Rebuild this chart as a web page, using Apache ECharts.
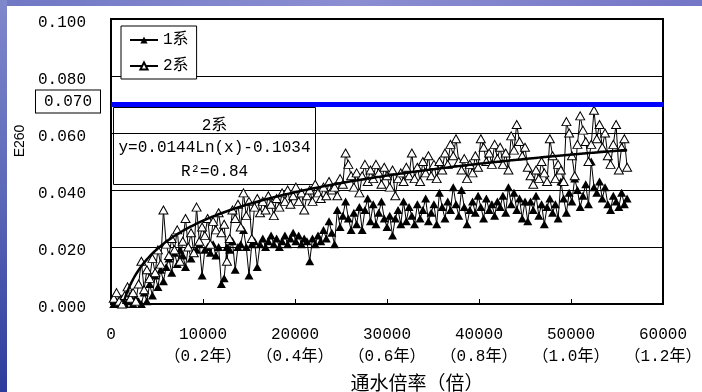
<!DOCTYPE html>
<html>
<head>
<meta charset="utf-8">
<script src="https://cdn.jsdelivr.net/npm/echarts@6/dist/echarts.min.js"></script>
<style>
  html, body { margin: 0; padding: 0; background: #fff; }
  #main { width: 702px; height: 392px; }
</style>
</head>
<body>
<div id="main"></div>
<script>
// 通水倍率（倍）
const xValues = [
  300, 600, 900, 1200, 1500, 1800, 2100, 2400, 2700, 3000,
  3300, 3600, 3900, 4200, 4500, 4800, 5100, 5400, 5700, 6000,
  6300, 6600, 6900, 7200, 7500, 7800, 8100, 8400, 8700, 9000,
  9300, 9600, 9900, 10200, 10500, 10800, 11100, 11400, 11700, 12000,
  12300, 12600, 12900, 13200, 13500, 13800, 14100, 14400, 14700, 15000,
  15300, 15600, 15900, 16200, 16500, 16800, 17100, 17400, 17700, 18000,
  18300, 18600, 18900, 19200, 19500, 19800, 20100, 20400, 20700, 21000,
  21300, 21600, 21900, 22200, 22500, 22800, 23100, 23400, 23700, 24000,
  24300, 24600, 24900, 25200, 25500, 25800, 26100, 26400, 26700, 27000,
  27300, 27600, 27900, 28200, 28500, 28800, 29100, 29400, 29700, 30000,
  30300, 30600, 30900, 31200, 31500, 31800, 32100, 32400, 32700, 33000,
  33300, 33600, 33900, 34200, 34500, 34800, 35100, 35400, 35700, 36000,
  36300, 36600, 36900, 37200, 37500, 37800, 38100, 38400, 38700, 39000,
  39300, 39600, 39900, 40200, 40500, 40800, 41100, 41400, 41700, 42000,
  42300, 42600, 42900, 43200, 43500, 43800, 44100, 44400, 44700, 45000,
  45300, 45600, 45900, 46200, 46500, 46800, 47100, 47400, 47700, 48000,
  48300, 48600, 48900, 49200, 49500, 49800, 50100, 50400, 50700, 51000,
  51300, 51600, 51900, 52200, 52500, 52800, 53100, 53400, 53700, 54000,
  54300, 54600, 54900, 55200, 55500, 55800, 56100
];

// 1系 E260
const series1Values = [
  0.000, 0.001, 0.000, 0.002, 0.000, 0.001, 0.003, 0.000, 0.002, 0.001,
  0.000, 0.004, 0.001, 0.007, 0.003, 0.010, 0.006, 0.012, 0.008, 0.013,
  0.016, 0.011, 0.018, 0.014, 0.019, 0.017, 0.013, 0.020, 0.016, 0.018,
  0.019, 0.021, 0.010, 0.019, 0.020, 0.018, 0.021, 0.017, 0.020, 0.007,
  0.009, 0.020, 0.019, 0.022, 0.012, 0.020, 0.021, 0.026, 0.020, 0.010,
  0.021, 0.022, 0.013, 0.021, 0.023, 0.020, 0.022, 0.024, 0.021, 0.023,
  0.020, 0.022, 0.024, 0.021, 0.023, 0.025, 0.022, 0.024, 0.021, 0.023,
  0.022, 0.015, 0.023, 0.021, 0.024, 0.022, 0.026, 0.023, 0.029, 0.025,
  0.021, 0.033, 0.027, 0.031, 0.036, 0.030, 0.026, 0.032, 0.028, 0.034,
  0.026, 0.033, 0.037, 0.029, 0.035, 0.028, 0.032, 0.036, 0.030, 0.027,
  0.031, 0.024, 0.030, 0.033, 0.028, 0.036, 0.029, 0.034, 0.031, 0.028,
  0.035, 0.030, 0.033, 0.037, 0.029, 0.032, 0.035, 0.028, 0.039, 0.034,
  0.030, 0.036, 0.033, 0.041, 0.035, 0.031, 0.040, 0.034, 0.028, 0.033,
  0.036, 0.032, 0.038, 0.034, 0.030, 0.037, 0.033, 0.035, 0.031, 0.036,
  0.034, 0.038, 0.032, 0.041, 0.035, 0.039, 0.033, 0.037, 0.030, 0.036,
  0.029, 0.036, 0.033, 0.038, 0.031, 0.035, 0.028, 0.034, 0.037, 0.032,
  0.035, 0.030, 0.043, 0.037, 0.032, 0.039, 0.036, 0.044, 0.040, 0.034,
  0.038, 0.042, 0.035, 0.050, 0.041, 0.039, 0.043, 0.037, 0.041, 0.035,
  0.033, 0.038, 0.036, 0.034, 0.039, 0.035, 0.037
];

// 2系 E260
const series2Values = [
  0.002, 0.004, 0.001, 0.000, 0.003, 0.006, 0.002, 0.004, 0.001, 0.007,
  0.015, 0.005, 0.012, 0.009, 0.016, 0.011, 0.019, 0.014, 0.033, 0.021,
  0.017, 0.023, 0.019, 0.026, 0.015, 0.022, 0.030, 0.020, 0.025, 0.018,
  0.034, 0.022, 0.027, 0.024, 0.030, 0.021, 0.029, 0.026, 0.032, 0.025,
  0.028, 0.015, 0.023, 0.033, 0.030, 0.035, 0.027, 0.039, 0.031, 0.036,
  0.023, 0.034, 0.037, 0.032, 0.036, 0.033, 0.038, 0.035, 0.031, 0.037,
  0.034, 0.039, 0.036, 0.040, 0.035, 0.038, 0.041, 0.036, 0.039, 0.033,
  0.038, 0.040, 0.036, 0.042, 0.039, 0.037, 0.041, 0.038, 0.043, 0.040,
  0.041, 0.038, 0.044, 0.042, 0.053, 0.049, 0.045, 0.041, 0.046, 0.039,
  0.045, 0.049, 0.043, 0.047, 0.044, 0.049, 0.046, 0.042, 0.048, 0.045,
  0.041, 0.047, 0.038, 0.044, 0.046, 0.043, 0.048, 0.045, 0.053, 0.044,
  0.048, 0.043, 0.050, 0.046, 0.052, 0.045, 0.049, 0.044, 0.050, 0.047,
  0.053, 0.049, 0.056, 0.052, 0.058, 0.050, 0.047, 0.051, 0.044, 0.049,
  0.046, 0.052, 0.048, 0.058, 0.055, 0.050, 0.053, 0.049, 0.056, 0.051,
  0.055, 0.049, 0.053, 0.047, 0.059, 0.054, 0.063, 0.057, 0.052, 0.055,
  0.048, 0.045, 0.042, 0.047, 0.044, 0.050, 0.046, 0.043, 0.058, 0.052,
  0.044, 0.049, 0.047, 0.043, 0.064, 0.060, 0.052, 0.045, 0.056, 0.066,
  0.061, 0.057, 0.050, 0.056, 0.068, 0.058, 0.063, 0.055, 0.060, 0.052,
  0.049, 0.056, 0.063, 0.047, 0.055, 0.058, 0.048
];

// 2系 近似曲線 y = a Ln(x) + b
const trendA = 0.0144;
const trendB = -0.1034;
const limitValue = 0.0712;

const xTickLabels = ['0', '10000', '20000', '30000', '40000', '50000', '60000'];
const xYearLabels = ['', '（0.2年）', '（0.4年）', '（0.6年）', '（0.8年）', '（1.0年）', '（1.2年）'];
const equationLines = ['2系', 'y=0.0144Ln(x)-0.1034', 'R²=0.84'];

const monoFont = "'Liberation Mono', 'Noto Sans CJK SC', monospace";

let myChart = echarts.init(document.getElementById('main'))

let data1 = xValues.map((x, i) => [x, series1Values[i]])
let data2 = xValues.map((x, i) => [x, series2Values[i]])
let trendStart = Math.exp(-trendB / trendA)
let trendData = [[trendStart, 0]].concat(
  xValues.filter(x => x > trendStart).map(x => [x, trendA * Math.log(x) + trendB])
)

let eqTexts = equationLines.map((t, i) => ({
  type: 'text',
  x: 101,
  y: [18, 40, 64][i],
  style: {
    text: t,
    fontFamily: monoFont,
    fontSize: 16,
    fill: '#000',
    align: 'center',
    verticalAlign: 'middle'
  }
}))

myChart.setOption({
  animation: false,
  backgroundColor: '#fff',
  graphic: [
    {
      type: 'rect',
      shape: { x: 0, y: 0, width: 702, height: 6 },
      style: {
        fill: new echarts.graphic.LinearGradient(0, 0, 1, 0, [
          { offset: 0, color: '#7078c4' },
          { offset: 0.5, color: '#8c8ed2' },
          { offset: 1, color: '#7476c6' }
        ])
      },
      silent: true
    },
    {
      type: 'rect',
      shape: { x: 0, y: 0, width: 7, height: 392 },
      style: {
        fill: new echarts.graphic.LinearGradient(0, 0, 0, 1, [
          { offset: 0, color: '#8088cc' },
          { offset: 0.5, color: '#5a68b8' },
          { offset: 1, color: '#2c3c9c' }
        ])
      },
      silent: true
    },
    {
      type: 'group',
      left: 113,
      top: 107,
      z: 100,
      children: [
        {
          type: 'rect',
          shape: { x: 0, y: 0, width: 202, height: 77 },
          style: { fill: '#fff', stroke: '#000', lineWidth: 1 }
        }
      ].concat(eqTexts)
    }
  ],
  grid: {
    left: 111,
    top: 19,
    width: 552,
    height: 285,
    outerBoundsMode: 'none',
    containLabel: false,
    show: true,
    borderColor: '#000',
    borderWidth: 2
  },
  legend: {
    data: ['1系', '2系'],
    orient: 'vertical',
    left: 121,
    top: 26,
    padding: [6, 8, 5, 8],
    itemGap: 10,
    itemWidth: 28,
    itemHeight: 9,
    backgroundColor: '#fff',
    borderColor: '#000',
    borderWidth: 1,
    borderRadius: 0,
    textStyle: {
      fontFamily: monoFont,
      fontSize: 16,
      color: '#000'
    }
  },
  xAxis: {
    type: 'value',
    min: 0,
    max: 60000,
    interval: 10000,
    name: '通水倍率（倍）',
    nameLocation: 'middle',
    nameGap: 68,
    nameTextStyle: {
      fontFamily: "'Noto Sans CJK SC', sans-serif",
      fontSize: 19,
      color: '#000',
      padding: [0, 0, 0, 60]
    },
    axisLine: { show: false },
    axisTick: { show: true, inside: true, length: 5, lineStyle: { color: '#000', width: 1 } },
    splitLine: { show: false },
    axisLabel: {
      margin: 20,
      lineHeight: 22,
      fontFamily: monoFont,
      fontSize: 16,
      color: '#000',
      formatter: function (v) {
        let i = Math.round(v / 10000)
        return xYearLabels[i] ? xTickLabels[i] + '\n' + xYearLabels[i] : xTickLabels[i]
      }
    }
  },
  yAxis: {
    type: 'value',
    min: 0,
    max: 0.1,
    interval: 0.02,
    name: 'E260',
    nameLocation: 'middle',
    nameGap: 79,
    nameRotate: 90,
    nameTextStyle: {
      fontFamily: "'Liberation Sans', Arial, sans-serif",
      fontSize: 14,
      color: '#000',
      padding: [0, 0, 0, 41]
    },
    axisLine: { show: false },
    axisTick: { show: false },
    splitLine: { show: true, lineStyle: { color: '#000', width: 1 } },
    axisLabel: {
      margin: 25,
      verticalAlign: 'top',
      lineHeight: 8,
      fontFamily: monoFont,
      fontSize: 16,
      color: '#000',
      formatter: v => v.toFixed(3)
    }
  },
  series: [
    {
      name: '1系',
      type: 'line',
      data: data1,
      symbol: 'triangle',
      symbolSize: [9, 8],
      showAllSymbol: true,
      itemStyle: { color: '#000' },
      lineStyle: { color: '#000', width: 1 },
      z: 2
    },
    {
      name: '2系',
      type: 'line',
      data: data2,
      symbol: 'triangle',
      symbolSize: [9, 8],
      showAllSymbol: true,
      itemStyle: { color: '#fff', borderColor: '#000', borderWidth: 1 },
      lineStyle: { color: '#000', width: 1 },
      z: 3
    },
    {
      name: '対数近似',
      type: 'line',
      data: trendData,
      showSymbol: false,
      smooth: true,
      silent: true,
      lineStyle: { color: '#000', width: 2.5 },
      z: 4,
      markLine: {
        silent: true,
        symbol: ['none', 'none'],
        data: [{ yAxis: limitValue }],
        lineStyle: { color: '#0000ff', width: 5, type: 'solid' },
        label: {
          show: true,
          position: 'start',
          distance: 11,
          offset: [0, -3],
          formatter: '0.070',
          fontFamily: monoFont,
          fontSize: 16,
          color: '#000',
          backgroundColor: '#fff',
          borderColor: '#000',
          borderWidth: 1,
          padding: [3, 8, 3, 8]
        }
      }
    }
  ]
})
</script>
</body>
</html>
